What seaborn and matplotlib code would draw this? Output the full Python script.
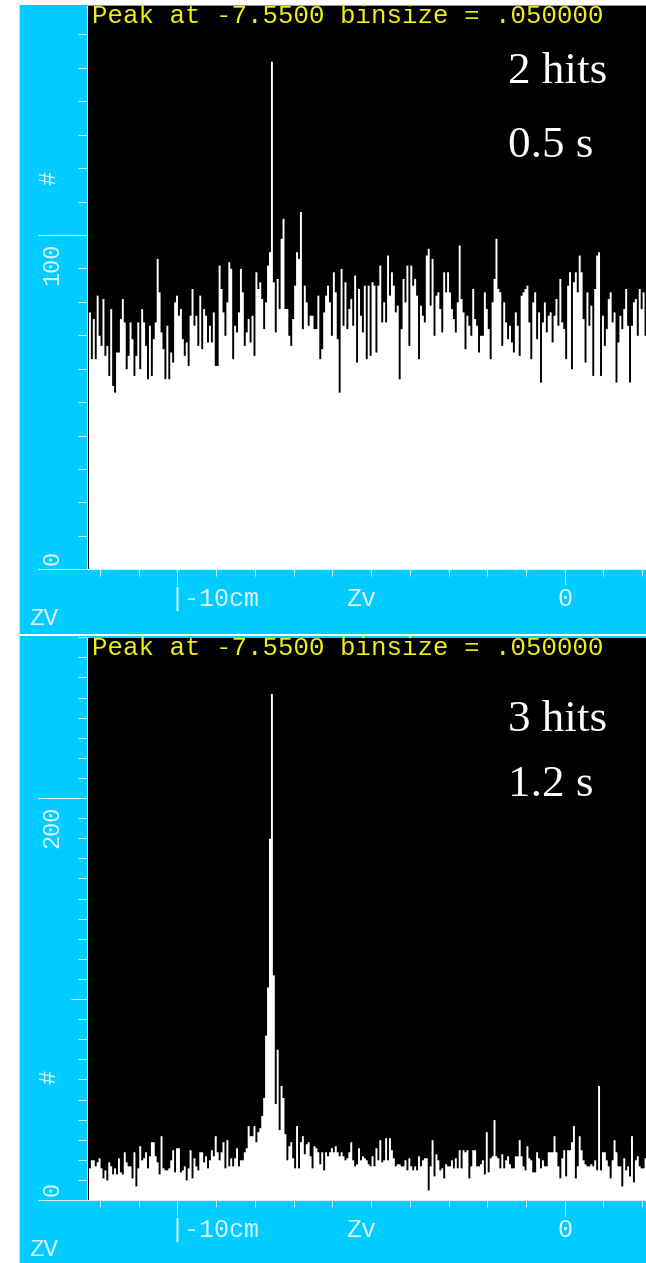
import numpy as np
import pandas as pd
import matplotlib
matplotlib.use("Agg")
import matplotlib.pyplot as plt
import matplotlib.transforms as mtransforms
from matplotlib.patches import Rectangle
from matplotlib.ticker import MultipleLocator, FixedLocator
import seaborn as sns

# ---------------------------------------------------------------------------
# Zv vertex histograms: counts per 0.05 cm bin, first bin starts at -12.35 cm
# ---------------------------------------------------------------------------
BIN_START = -12.35
BIN_SIZE = 0.05

counts_2hits = [
    0,
    77, 63, 75, 63, 82, 70, 67, 81, 64, 67, 58, 78, 55, 53, 65, 65, 75, 81, 74, 60,
    64, 74, 69, 58, 64, 74, 60, 78, 74, 67, 57, 73, 58, 69, 74, 93, 83, 71, 66, 57,
    73, 57, 65, 62, 80, 82, 76, 78, 69, 64, 68,
    61, 76, 84, 73, 76, 67, 82, 66, 78, 76, 68, 73, 68, 77, 61, 61, 91, 84, 77, 70,
    80, 92, 90, 63, 73, 71, 77, 90, 83, 67, 71,
    75, 68, 76, 64, 89, 84, 86, 81, 72, 80, 91, 95, 152, 86, 71, 87, 78, 99, 105, 78,
    78, 70, 67, 75, 85, 95, 93, 107, 72, 85, 80, 73, 76, 76, 72, 72, 82, 63, 66, 77,
    82, 85, 80, 70, 89, 83, 69, 53, 90, 73, 86, 72, 78, 81, 73, 88, 62, 84, 76, 71,
    85, 63,
    85, 64, 86, 85, 65, 85,
    91, 74, 80, 74, 94, 82, 89, 85, 77, 79, 57, 72, 87, 80,
    91, 67, 91, 85, 87, 82, 63, 79, 76, 74, 94, 96, 79, 93, 70, 82, 83, 78,
    71, 89, 83, 89, 83, 78, 75, 71, 80, 97, 81, 77, 66, 76, 73, 70, 84, 75,
    73, 65, 70, 70, 83, 78, 72,
    63, 80, 87, 99, 84, 83, 67, 80, 74, 69, 73, 68, 65, 77, 73, 64, 82, 83, 84, 85,
    74, 63, 80, 83, 69, 77, 56, 74, 80, 71, 76, 77, 68, 76, 81, 73, 87, 74, 72, 63,
    85, 89, 60, 86, 89, 83, 94, 89, 75, 62, 83, 73, 79, 58, 84, 94, 95, 58, 76, 67,
    72, 81, 83, 74, 77, 56, 68, 76, 72, 78, 84, 73, 56, 73, 80, 81, 70, 84,
    78, 83, 70, 86,
]

counts_3hits = [
    0,
    16, 20, 20, 17, 19, 21, 16, 11, 15, 10, 19, 17, 13, 16, 13, 21, 14, 13, 24, 19,
    17, 17, 11, 24, 7, 16, 27, 20, 21, 24, 16, 22, 29, 29, 22, 19, 13, 32, 16, 15,
    15, 16, 20, 25, 14, 26, 26, 14, 15, 17, 10, 16, 25, 11, 21, 17, 15, 24, 24, 19,
    22, 16, 20, 25, 22, 32, 24, 20, 24, 29, 16, 30, 17, 21, 17, 21, 26,
    17, 20, 20, 24,
    26, 37, 32, 32, 37, 29, 34, 36, 42, 51,
    82, 106, 180, 252, 112, 48, 75, 35, 57, 51, 33, 20, 27, 29, 21, 16, 37,
    16, 29, 32, 23, 28, 29, 22, 16, 27, 26, 24, 18, 24, 15, 24, 22, 24, 26, 24, 27,
    24, 22, 24, 22, 20, 21, 24, 29, 20, 17, 18, 26, 20, 22, 21, 20,
    18, 17, 22, 17, 26, 20, 30, 19, 20, 31, 20, 31, 25, 21, 17, 18, 18, 17, 17, 20,
    15, 21, 17, 15, 17, 15, 22, 17, 20, 21, 21, 5, 17, 30, 12, 23, 20, 15, 16, 11,
    18, 17, 17, 20, 16, 21, 16, 25, 16, 25, 24, 25, 11, 17, 25, 25, 17, 17, 18, 20,
    13, 34, 14, 21, 22, 40, 22, 21, 16, 23, 16, 20, 22, 18, 16, 16, 22, 22, 30, 22,
    17, 15, 27, 21, 20, 14, 14, 24, 21, 16, 20, 17, 17, 24, 24, 24, 32, 24, 17, 11,
    21, 25, 12, 25, 25, 29, 37, 11, 17, 32, 25, 20, 18, 17, 17, 18, 17, 20, 15, 57,
    15, 24, 24, 20, 17, 11, 20, 30, 24, 17, 17, 7, 21, 15, 17, 12, 32, 9, 20, 22,
    17, 16, 16, 21, 21,
]

notes_2hits = ["2 hits", "0.5 s"]
notes_3hits = ["3 hits", "1.2 s"]
peak_text = "Peak at -7.5500 binsize = .050000"
x_axis_title = "Zv"
x_var_name = "ZV"
y_axis_title = "#"

# ---------------------------------------------------------------------------
# page geometry (pixels) and colours
# ---------------------------------------------------------------------------
W, H, DPI = 646, 1263, 100
PT = 72.0 / DPI                      # points per pixel
AX_LEFT = 86.5
PANEL_LEFT = 18.5
X_MIN, X_MAX = -12.35, 2.10

CYAN = "#00CCFF"
TICK = "#dcf6ff"
YELLOW = "#EEEE10"

sns.set_theme(style="dark")
plt.rcParams["font.family"] = ["Liberation Mono", "DejaVu Sans Mono"]

fig = plt.figure(figsize=(W / DPI, H / DPI), dpi=DPI, facecolor="white")


def shift(trans, dx=0.0, dy=0.0):
    """Offset a transform by dx pixels right and dy pixels down."""
    return trans + mtransforms.ScaledTranslation(dx / DPI, -dy / DPI, fig.dpi_scale_trans)


panels = [
    dict(counts=counts_2hits, ymax=168.8, bg=(5, 634), plot=(5, 569.3),
         major_y=[0, 100], mid_y=[], hash_y=117, number=(100, "100"),
         notes=notes_2hits, note_base=(82.7, 156.7)),
    dict(counts=counts_3hits, ymax=280.1, bg=(636, 1263), plot=(637, 1200),
         major_y=[0, 200], mid_y=[100], hash_y=61, number=(200, "200"),
         notes=notes_3hits, note_base=(731, 796)),
]

n_bins = len(counts_2hits)
bin_end = BIN_START + BIN_SIZE * n_bins
centers = BIN_START + BIN_SIZE * (np.arange(n_bins) + 0.5)

for p in panels:
    # cyan frame behind each histogram
    b0, b1 = p["bg"]
    fig.patches.append(Rectangle((PANEL_LEFT / W, 1 - b1 / H), (W - PANEL_LEFT) / W,
                                 (b1 - b0) / H, transform=fig.transFigure,
                                 facecolor=CYAN, edgecolor="none", zorder=-5))
    fig.lines.append(plt.Line2D([PANEL_LEFT / W] * 2, [1 - b1 / H, 1 - b0 / H],
                                transform=fig.transFigure, color="#9fe6ff",
                                lw=1.0 * PT, zorder=-4))

    y0, y1 = p["plot"]
    ax = fig.add_axes([AX_LEFT / W, 1 - y1 / H, (W - AX_LEFT) / W, (y1 - y0) / H])
    ax.set_zorder(1)
    ax.set_facecolor("black")

    df = pd.DataFrame({"zv": centers, "n": np.asarray(p["counts"], dtype=float)})
    sns.histplot(data=df, x="zv", weights="n", bins=n_bins,
                 binrange=(BIN_START, bin_end), element="step",
                 fill=True, color="white", alpha=1.0, linewidth=0, ax=ax)

    ax.set_xlim(X_MIN, X_MAX)
    ax.set_ylim(0, p["ymax"])
    ax.set_xlabel("")
    ax.set_ylabel("")
    ax.grid(False)

    ax.xaxis.set_major_locator(FixedLocator([-10, 0]))
    ax.xaxis.set_minor_locator(MultipleLocator(1))
    ax.yaxis.set_major_locator(FixedLocator(p["major_y"]))
    ax.yaxis.set_minor_locator(MultipleLocator(10))
    common = dict(direction="out", color=TICK, width=1.0 * PT)
    ax.tick_params(axis="x", which="major", length=16 * PT, bottom=True,
                   labelbottom=False, **common)
    ax.tick_params(axis="x", which="minor", length=7 * PT, bottom=True, **common)
    ax.tick_params(axis="y", which="major", length=49 * PT, left=True,
                   labelleft=False, **common)
    ax.tick_params(axis="y", which="minor", length=9 * PT, left=True, **common)

    for m in p["mid_y"]:
        ax.plot([-16 / (W - AX_LEFT), 0], [m, m], transform=ax.get_yaxis_transform(),
                color=TICK, lw=1.0 * PT, clip_on=False, solid_capstyle="butt")

    ax.spines["right"].set_visible(False)
    ax.spines["left"].set_color(TICK)
    ax.spines["left"].set_linewidth(1.0 * PT)
    ax.spines["bottom"].set_color(TICK)
    ax.spines["bottom"].set_linewidth(1.0 * PT)
    ax.spines["top"].set_color("#9a9a9a")
    ax.spines["top"].set_linewidth(1.0 * PT)

    # header line inside the plot
    ax.text(0, 1, peak_text, transform=shift(ax.transAxes, 5.5, 18),
            color=YELLOW, fontsize=18.5, va="baseline", ha="left")

    # x axis labels
    xt = ax.get_xaxis_transform()
    ax.text(-10, 0, "|-10cm", transform=shift(xt, -7.8, 36.7), color=TICK,
            fontsize=18.0, ha="left", va="baseline")
    ax.text(-5.27, 0, x_axis_title, transform=shift(xt, 0, 36.7), color=TICK,
            fontsize=18.0, ha="center", va="baseline")
    ax.text(0, 0, "0", transform=shift(xt, 0, 36.7), color=TICK,
            fontsize=18.0, ha="center", va="baseline")
    ax.text(0, 0, x_var_name, transform=shift(ax.transAxes, 29 - AX_LEFT, 55.7),
            color=TICK, fontsize=17.5, ha="left", va="baseline")

    # y axis labels (rotated)
    yt = ax.get_yaxis_transform()
    ax.text(0, p["hash_y"], y_axis_title, transform=shift(yt, 49 - AX_LEFT, 0),
            color=TICK, fontsize=17.0, rotation=90, ha="center", va="center")
    val, txt = p["number"]
    ax.text(0, val, txt, transform=shift(yt, 52 - AX_LEFT, 8), color=TICK,
            fontsize=17.0, rotation=90, ha="center", va="top")
    ax.text(0, 0, "0", transform=shift(yt, 52 - AX_LEFT, -4), color=TICK,
            fontsize=17.0, rotation=90, ha="center", va="bottom")

    # run annotations
    for note, base in zip(p["notes"], p["note_base"]):
        fig.text(508 / W, 1 - base / H, note, color="white", fontsize=32.5,
                 family="Liberation Serif", ha="left", va="baseline", zorder=5)

fig.savefig("out.png", dpi=DPI, facecolor="white")
